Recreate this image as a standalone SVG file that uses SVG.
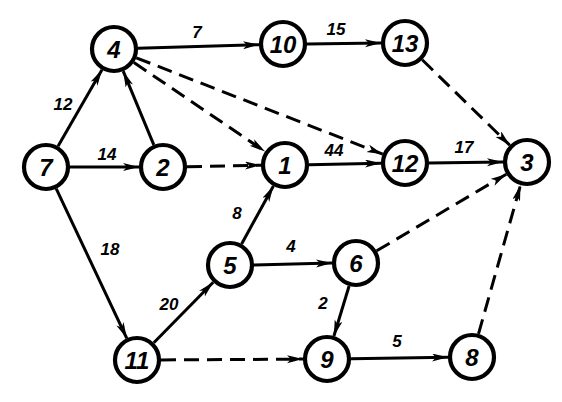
<svg xmlns="http://www.w3.org/2000/svg" width="562" height="402" viewBox="0 0 562 402">
<style>
.node circle{fill:#fff;stroke:#000;stroke-width:4.2}
.node text{font-family:"Liberation Sans",Arial,sans-serif;font-style:italic;font-weight:bold;font-size:24px;text-anchor:middle;dominant-baseline:central;fill:#000}
.e{stroke:#000;stroke-width:3;fill:none;marker-end:url(#ah)}
.d{stroke-dasharray:15 8}
.lbl{font-family:"Liberation Sans",Arial,sans-serif;font-style:italic;font-weight:bold;font-size:17px;text-anchor:middle;dominant-baseline:central;fill:#000}
</style>
<defs>
<marker id="ah" markerUnits="userSpaceOnUse" markerWidth="18" markerHeight="10" refX="16" refY="4" orient="auto">
<path d="M0,0 L16,4 L0,8 L4,4 Z" fill="#000"/>
</marker>
</defs>
<rect width="562" height="402" fill="#fff"/>
<g id="connectors">
<line class="e" x1="58" y1="146.2" x2="102" y2="69.8"/>
<line class="e" x1="70" y1="167" x2="139" y2="167"/>
<line class="e" x1="153.8" y1="144.8" x2="123.2" y2="71.2"/>
<line class="e" x1="138" y1="48.3" x2="259" y2="44.7"/>
<line class="e" x1="307" y1="44" x2="381" y2="43"/>
<line class="e d" x1="422.2" y1="59.8" x2="509.8" y2="145.2"/>
<line class="e d" x1="136.3" y1="57.8" x2="382.7" y2="154.2"/>
<line class="e d" x1="133.9" y1="62.5" x2="265.1" y2="151.5"/>
<line class="e d" x1="187" y1="166.8" x2="261" y2="165.2"/>
<line class="e" x1="309" y1="164.8" x2="381" y2="163.2"/>
<line class="e" x1="429" y1="162.9" x2="503" y2="162.1"/>
<line class="e" x1="56.2" y1="188.7" x2="126.8" y2="338.3"/>
<line class="e" x1="153.8" y1="342.8" x2="213.2" y2="282.2"/>
<line class="e" x1="241.6" y1="244" x2="273.4" y2="186"/>
<line class="e" x1="254" y1="265" x2="332" y2="263"/>
<line class="e d" x1="376.7" y1="250.8" x2="506.3" y2="174.2"/>
<line class="e" x1="349.1" y1="286" x2="333.9" y2="336"/>
<line class="e d" x1="161" y1="359.9" x2="303" y2="359.1"/>
<line class="e" x1="351" y1="358.7" x2="448" y2="357.3"/>
<line class="e d" x1="478.5" y1="333.9" x2="520.5" y2="185.1"/>
</g>
<g id="labels">
<text class="lbl" x="63" y="104">12</text>
<text class="lbl" x="107" y="154">14</text>
<text class="lbl" x="197" y="32">7</text>
<text class="lbl" x="336" y="29">15</text>
<text class="lbl" x="334" y="150">44</text>
<text class="lbl" x="464" y="147">17</text>
<text class="lbl" x="110" y="249">18</text>
<text class="lbl" x="169" y="304">20</text>
<text class="lbl" x="237" y="213">8</text>
<text class="lbl" x="291" y="246">4</text>
<text class="lbl" x="323" y="303">2</text>
<text class="lbl" x="397" y="341">5</text>
</g>
<g id="n4" class="node"><circle cx="114" cy="49" r="22"/><text x="114" y="49">4</text></g>
<g id="n10" class="node"><circle cx="283" cy="44" r="22"/><text x="283" y="44">10</text></g>
<g id="n13" class="node"><circle cx="405" cy="43" r="22"/><text x="405" y="43">13</text></g>
<g id="n7" class="node"><circle cx="46" cy="167" r="22"/><text x="46" y="167">7</text></g>
<g id="n2" class="node"><circle cx="163" cy="167" r="22"/><text x="163" y="167">2</text></g>
<g id="n1" class="node"><circle cx="285" cy="165" r="22"/><text x="285" y="165">1</text></g>
<g id="n12" class="node"><circle cx="405" cy="163" r="22"/><text x="405" y="163">12</text></g>
<g id="n3" class="node"><circle cx="527" cy="162" r="22"/><text x="527" y="162">3</text></g>
<g id="n5" class="node"><circle cx="230" cy="265" r="22"/><text x="230" y="265">5</text></g>
<g id="n6" class="node"><circle cx="356" cy="263" r="22"/><text x="356" y="263">6</text></g>
<g id="n11" class="node"><circle cx="137" cy="360" r="22"/><text x="137" y="360">11</text></g>
<g id="n9" class="node"><circle cx="327" cy="359" r="22"/><text x="327" y="359">9</text></g>
<g id="n8" class="node"><circle cx="472" cy="357" r="22"/><text x="472" y="357">8</text></g>
</svg>
